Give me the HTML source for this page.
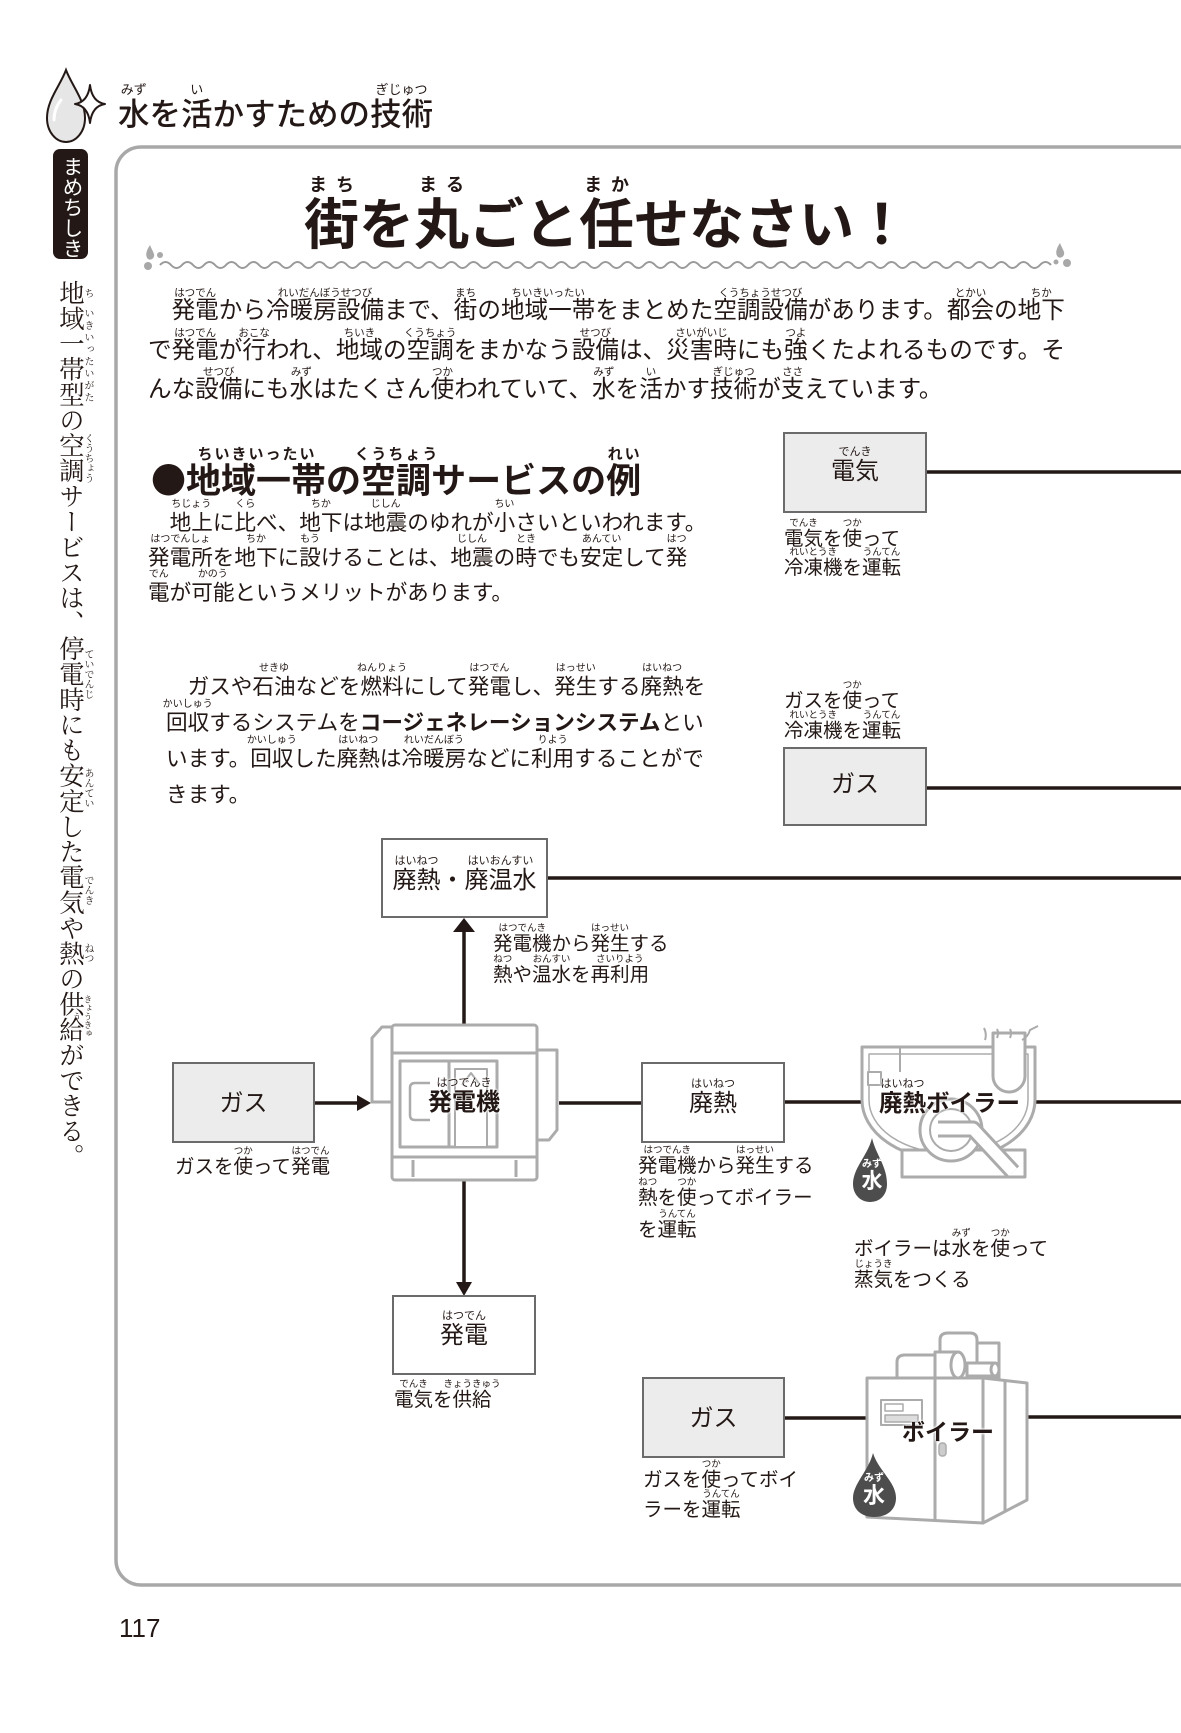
<!DOCTYPE html>
<html><head><meta charset="utf-8">
<style>
html,body{margin:0;padding:0;background:#fff}
body{width:1181px;height:1733px;position:relative;overflow:hidden;font-family:"Liberation Sans","Noto Sans CJK JP",sans-serif;color:#231815}
.ln{position:absolute;white-space:nowrap;line-height:1;color:#231815}
r{position:relative}
t{position:absolute;left:50%;bottom:100%;transform:translateX(-50%);line-height:1;white-space:nowrap;font-weight:normal}
.hd t{font-size:13px}
.tt{font-weight:700}
.tt t{font-size:18px;font-weight:700;letter-spacing:9px;padding-left:9px}
.h2{font-weight:700}
.h2 t{font-size:15px;font-weight:700;letter-spacing:2px;padding-left:2px}
.p1 t{font-size:10.5px}
.p2 t{font-size:10px}
.cap t{font-size:9.5px}
.bx{position:absolute;white-space:nowrap;line-height:1;text-align:center}
.bx t{font-size:11px}
.lab{text-shadow:0 0 2px #fff,0 0 2px #fff,0 0 3px #fff}
.vr{position:absolute;left:82px;width:11px;writing-mode:vertical-rl;text-align:center;font-size:10px;line-height:11px;font-family:"Liberation Serif","Noto Serif CJK SC",serif}
.cjk{font-family:"Noto Sans CJK JP",sans-serif}
</style></head>
<body>
<svg width="1181" height="1733" style="position:absolute;left:0;top:0">
<!-- header drop icon -->
<path d="M66 70 C60 86 47 100 47 118 C47 132 56 142 66 142 C76 142 85 132 85 118 C85 100 72 86 66 70Z" fill="#e6e6e6" stroke="#231815" stroke-width="2"/>
<path d="M54 120 C54 111 57 105 61 100" stroke="#fff" stroke-width="3" fill="none" stroke-linecap="round"/>
<path d="M90 85 Q92 102 105 104 Q92 106 90 123 Q88 106 75 104 Q88 102 90 85Z" fill="#fff" stroke="#231815" stroke-width="2" stroke-linejoin="round"/>
<!-- tab -->
<rect x="53" y="149" width="35" height="110" rx="7" fill="#231815"/>
<!-- frame -->
<rect x="116" y="147" width="1120" height="1438" rx="25" fill="none" stroke="#a8a8a8" stroke-width="3.5"/>
<!-- wave -->
<path d="M160 265 q5.5 -6 11 0 t11 0 t11 0 t11 0 t11 0 t11 0 t11 0 t11 0 t11 0 t11 0 t11 0 t11 0 t11 0 t11 0 t11 0 t11 0 t11 0 t11 0 t11 0 t11 0 t11 0 t11 0 t11 0 t11 0 t11 0 t11 0 t11 0 t11 0 t11 0 t11 0 t11 0 t11 0 t11 0 t11 0 t11 0 t11 0 t11 0 t11 0 t11 0 t11 0 t11 0 t11 0 t11 0 t11 0 t11 0 t11 0 t11 0 t11 0 t11 0 t11 0 t11 0 t11 0 t11 0 t11 0 t11 0 t11 0 t11 0 t11 0 t11 0 t11 0 t11 0 t11 0 t11 0 t11 0 t11 0 t11 0 t11 0 t11 0 t11 0 t11 0 t11 0 t11 0 t11 0 t11 0 t11 0 t11 0 t11 0 t11 0 t11 0 t11 0 t11 0" stroke="#9a9a9a" stroke-width="2" fill="none"/>
<g fill="#a8a8a8">
<path d="M150 245 C146 251 145 256 148 259 C151 261 155 258 154 254 C153 251 151 248 150 245Z"/>
<circle cx="160" cy="255" r="3"/>
<circle cx="148" cy="266" r="4"/>
<path d="M1060 243 C1056 249 1055 254 1058 257 C1061 259 1065 256 1064 252 C1063 249 1061 246 1060 243Z"/>
<circle cx="1067" cy="263" r="4"/>
<circle cx="1056" cy="262" r="2.5"/>
</g>
<!-- connectors -->
<g stroke="#231815" stroke-width="3.5" fill="none">
<line x1="926" y1="472" x2="1181" y2="472"/>
<line x1="926" y1="788" x2="1181" y2="788"/>
<line x1="547" y1="878" x2="1181" y2="878"/>
<line x1="464" y1="1025" x2="464" y2="930"/>
<line x1="314" y1="1103" x2="358" y2="1103"/>
<line x1="559" y1="1103" x2="642" y2="1103"/>
<line x1="784" y1="1102" x2="862" y2="1102"/>
<line x1="1035" y1="1102" x2="1181" y2="1102"/>
<line x1="464" y1="1180" x2="464" y2="1284"/>
<line x1="784" y1="1418" x2="867" y2="1418"/>
<line x1="1027" y1="1417" x2="1181" y2="1417"/>
</g>
<g fill="#231815">
<polygon points="464,918 453,932 475,932"/>
<polygon points="371,1103 357,1095 357,1111"/>
<polygon points="464,1296 456,1282 472,1282"/>
</g>
<!-- boxes -->
<g stroke="#6b6b6b" stroke-width="2">
<rect x="784" y="433" width="142" height="79" fill="#ececec"/>
<rect x="784" y="748" width="142" height="77" fill="#ececec"/>
<rect x="382" y="839" width="165" height="78" fill="#fff"/>
<rect x="173" y="1063" width="141" height="79" fill="#ececec"/>
<rect x="642" y="1063" width="142" height="79" fill="#fff"/>
<rect x="393" y="1296" width="142" height="78" fill="#fff"/>
<rect x="643" y="1378" width="141" height="79" fill="#ececec"/>
</g>
<!-- generator -->
<g stroke="#ababab" stroke-width="3" fill="#fff" stroke-linejoin="round">
<path d="M392 1027 H382 L372 1038 V1102 H392 Z"/>
<path d="M537 1050 H557 V1130 L549 1140 H537 Z"/>
<rect x="392" y="1025" width="145" height="155" rx="3"/>
<line x1="392" y1="1053" x2="537" y2="1053"/>
<line x1="392" y1="1157" x2="537" y2="1157"/>
<rect x="400" y="1061" width="97" height="86"/>
<line x1="449" y1="1061" x2="449" y2="1147"/>
<rect x="455" y="1069" width="32" height="78" stroke-width="2"/>
<path d="M462 1085 L471 1073 L480 1085" stroke-width="2" fill="none"/>
<path d="M430 1083 H415 Q410 1083 410 1088 V1115 Q410 1120 415 1120 H430" stroke-width="2.5" fill="none"/>
<line x1="413" y1="1160" x2="413" y2="1177"/>
<line x1="516" y1="1160" x2="516" y2="1177"/>
</g>
<!-- waste heat boiler -->
<g stroke="#ababab" stroke-width="3" fill="#fff" stroke-linejoin="round">
<path d="M862 1047 H1035 V1100 A87 60 0 0 1 948 1160 A87 60 0 0 1 862 1100 Z"/>
<path d="M869 1054 H1028 V1100 A80 53 0 0 1 948 1153 A80 53 0 0 1 869 1100 Z" stroke-width="1.5" fill="none"/>
<rect x="902" y="1150" width="123" height="27"/>
<circle cx="951" cy="1130" r="31"/>
<circle cx="951" cy="1130" r="21" stroke-width="2"/>
<path d="M938 1129 H973 L1013 1172" stroke="#ababab" stroke-width="17" fill="none"/>
<path d="M938 1129 H973 L1013 1172" stroke="#fff" stroke-width="11" fill="none"/>
<path d="M993 1033 V1076 A16 16 0 0 0 1025 1076 V1033 Z"/>
<rect x="868" y="1072" width="13" height="13" stroke-width="2"/>
<line x1="900" y1="1047" x2="900" y2="1072" stroke-width="2"/>
<path d="M985 1040 q2 -6 -1 -12 M997 1038 q2 -5 0 -9 M1010 1038 q2 -5 0 -9 M1022 1040 q6 -3 8 -10 q4 -2 8 -4" fill="none" stroke-width="2"/>
</g>
<!-- boiler -->
<g stroke="#ababab" stroke-width="3" fill="#fff" stroke-linejoin="round">
<path d="M897 1378 V1362 Q897 1355 905 1355 H940 V1378 Z"/>
<path d="M940 1350 V1340 Q940 1333 948 1333 H970 Q977 1333 977 1340 V1378 H940Z"/>
<rect x="977" y="1343" width="22" height="35"/>
<path d="M935 1352 H958 V1378 H935 Z"/>
<ellipse cx="958" cy="1365" rx="7" ry="13"/>
<path d="M967 1363 H995 V1376 H967 Z"/>
<ellipse cx="995" cy="1369.5" rx="4" ry="6.5"/>
<path d="M867 1378 L983 1378 L983 1523 L867 1517 Z"/>
<path d="M983 1378 L1027 1383 L1027 1500 L983 1523 Z"/>
<line x1="1005" y1="1381" x2="1005" y2="1512"/>
<line x1="935" y1="1378" x2="935" y2="1520"/>
<rect x="881" y="1400" width="41" height="25" stroke-width="2"/>
<rect x="885" y="1404" width="18" height="7" stroke-width="1.5"/>
<rect x="885" y="1415" width="33" height="7" stroke-width="1.5" fill="#ddd"/>
<rect x="939" y="1443" width="7" height="13" rx="3" fill="#ccc" stroke-width="1.5"/>
</g>
<!-- water drops -->
<path d="M872 1138 C868 1155 853 1168 853 1184 C853 1195 861 1202 870 1202 C880 1202 887 1195 887 1184 C887 1166 876 1155 872 1138Z" fill="#4d4d4d"/>
<path d="M873 1453 C869 1470 853 1484 853 1498 C853 1510 862 1517 874 1517 C887 1517 896 1510 896 1498 C896 1482 878 1470 873 1453Z" fill="#4d4d4d"/>
</svg>

<!-- header title -->
<div class="ln hd" style="left:118px;top:99px;font-size:31.5px;font-weight:500"><r>水<t>みず</t></r>を<r>活<t>い</t></r>かすための<r>技術<t>ぎじゅつ</t></r></div>

<!-- tab -->
<div style="position:absolute;left:53px;top:156px;width:35px;height:104px;writing-mode:vertical-rl;font-size:20.5px;line-height:35px;color:#fff;font-family:'Liberation Sans','Noto Sans CJK JP',sans-serif">まめちしき</div>

<!-- vertical column -->
<div style="position:absolute;left:57px;top:280px;width:26px;height:900px;writing-mode:vertical-rl;font-size:25.4px;line-height:26px;font-family:'Liberation Serif','Noto Serif CJK SC',serif;color:#231815;white-space:nowrap">地域一帯型の空調サービスは、停電時にも安定した電気や熱の供給ができる。</div>
<div class="vr" style="top:280px;height:25.4px">ち</div>
<div class="vr" style="top:305.4px;height:101.6px;letter-spacing:2px">いきいったいがた</div>
<div class="vr" style="top:432.4px;height:50.8px">くうちょう</div>
<div class="vr" style="top:635.6px;height:76.2px">ていでんじ</div>
<div class="vr" style="top:762.6px;height:50.8px">あんてい</div>
<div class="vr" style="top:864.2px;height:50.8px">でんき</div>
<div class="vr" style="top:940.4px;height:25.4px">ねつ</div>
<div class="vr" style="top:991.2px;height:50.8px;font-size:8.5px">きょうきゅう</div>

<!-- main title -->
<div class="ln tt" style="left:304px;top:198px;font-size:55px"><r>街<t>まち</t></r>を<r>丸<t>まる</t></r>ごと<r>任<t>まか</t></r>せなさい！</div>

<!-- paragraph 1 -->
<div class="ln p1" style="left:148px;top:300px;font-size:23.6px">　<r>発電<t>はつでん</t></r>から<r>冷暖房設備<t>れいだんぼうせつび</t></r>まで、<r>街<t>まち</t></r>の<r>地域一帯<t>ちいきいったい</t></r>をまとめた<r>空調設備<t>くうちょうせつび</t></r>があります。<r>都会<t>とかい</t></r>の<r>地下<t>ちか</t></r></div>
<div class="ln p1" style="left:148px;top:340px;font-size:23.6px">で<r>発電<t>はつでん</t></r>が<r>行<t>おこな</t></r>われ、<r>地域<t>ちいき</t></r>の<r>空調<t>くうちょう</t></r>をまかなう<r>設備<t>せつび</t></r>は、<r>災害時<t>さいがいじ</t></r>にも<r>強<t>つよ</t></r>くたよれるものです。そ</div>
<div class="ln p1" style="left:148px;top:379px;font-size:23.6px">んな<r>設備<t>せつび</t></r>にも<r>水<t>みず</t></r>はたくさん<r>使<t>つか</t></r>われていて、<r>水<t>みず</t></r>を<r>活<t>い</t></r>かす<r>技術<t>ぎじゅつ</t></r>が<r>支<t>ささ</t></r>えています。</div>

<!-- heading -->
<div class="ln h2" style="left:151px;top:461px;font-size:35px"><span class="cjk">●</span><r>地域一帯<t>ちいきいったい</t></r>の<r>空調<t>くうちょう</t></r>サービスの<r>例<t>れい</t></r></div>

<!-- paragraph 2 -->
<div class="ln p2" style="left:148px;top:512px;font-size:21.6px">　<r>地上<t>ちじょう</t></r>に<r>比<t>くら</t></r>べ、<r>地下<t>ちか</t></r>は<r>地震<t>じしん</t></r>のゆれが<r>小<t>ちい</t></r>さいといわれます。</div>
<div class="ln p2" style="left:148px;top:547px;font-size:21.6px"><r>発電所<t>はつでんしょ</t></r>を<r>地下<t>ちか</t></r>に<r>設<t>もう</t></r>けることは、<r>地震<t>じしん</t></r>の<r>時<t>とき</t></r>でも<r>安定<t>あんてい</t></r>して<r>発<t>はつ</t></r></div>
<div class="ln p2" style="left:148px;top:582px;font-size:21.6px"><r>電<t>でん</t></r>が<r>可能<t>かのう</t></r>というメリットがあります。</div>

<!-- paragraph 3 -->
<div class="ln p2" style="left:166px;top:676px;font-size:21.6px">　ガスや<r>石油<t>せきゆ</t></r>などを<r>燃料<t>ねんりょう</t></r>にして<r>発電<t>はつでん</t></r>し、<r>発生<t>はっせい</t></r>する<r>廃熱<t>はいねつ</t></r>を</div>
<div class="ln p2" style="left:166px;top:712px;font-size:21.6px"><r>回収<t>かいしゅう</t></r>するシステムを<b>コージェネレーションシステム</b>とい</div>
<div class="ln p2" style="left:166px;top:748px;font-size:21.6px">います。<r>回収<t>かいしゅう</t></r>した<r>廃熱<t>はいねつ</t></r>は<r>冷暖房<t>れいだんぼう</t></r>などに<r>利用<t>りよう</t></r>することがで</div>
<div class="ln p2" style="left:166px;top:784px;font-size:21.6px">きます。</div>

<!-- captions -->
<div class="ln cap" style="left:784px;top:530px;font-size:19.5px"><r>電気<t>でんき</t></r>を<r>使<t>つか</t></r>って</div>
<div class="ln cap" style="left:784px;top:559px;font-size:19.5px"><r>冷凍機<t>れいとうき</t></r>を<r>運転<t>うんてん</t></r></div>
<div class="ln cap" style="left:784px;top:692px;font-size:19.5px">ガスを<r>使<t>つか</t></r>って</div>
<div class="ln cap" style="left:784px;top:722px;font-size:19.5px"><r>冷凍機<t>れいとうき</t></r>を<r>運転<t>うんてん</t></r></div>
<div class="ln cap" style="left:493px;top:935px;font-size:19.5px"><r>発電機<t>はつでんき</t></r>から<r>発生<t>はっせい</t></r>する</div>
<div class="ln cap" style="left:493px;top:966px;font-size:19.5px"><r>熱<t>ねつ</t></r>や<r>温水<t>おんすい</t></r>を<r>再利用<t>さいりよう</t></r></div>
<div class="ln cap" style="left:175px;top:1158px;font-size:19.5px">ガスを<r>使<t>つか</t></r>って<r>発電<t>はつでん</t></r></div>
<div class="ln cap" style="left:638px;top:1157px;font-size:19.5px"><r>発電機<t>はつでんき</t></r>から<r>発生<t>はっせい</t></r>する</div>
<div class="ln cap" style="left:638px;top:1189px;font-size:19.5px"><r>熱<t>ねつ</t></r>を<r>使<t>つか</t></r>ってボイラー</div>
<div class="ln cap" style="left:638px;top:1221px;font-size:19.5px">を<r>運転<t>うんてん</t></r></div>
<div class="ln cap" style="left:854px;top:1240px;font-size:19.5px">ボイラーは<r>水<t>みず</t></r>を<r>使<t>つか</t></r>って</div>
<div class="ln cap" style="left:854px;top:1271px;font-size:19.5px"><r>蒸気<t>じょうき</t></r>をつくる</div>
<div class="ln cap" style="left:394px;top:1391px;font-size:19.5px"><r>電気<t>でんき</t></r>を<r>供給<t>きょうきゅう</t></r></div>
<div class="ln cap" style="left:643px;top:1471px;font-size:19.5px">ガスを<r>使<t>つか</t></r>ってボイ</div>
<div class="ln cap" style="left:643px;top:1501px;font-size:19.5px">ラーを<r>運転<t>うんてん</t></r></div>

<!-- box labels -->
<div class="bx" style="left:784px;width:142px;top:460px;font-size:24px"><r>電気<t>でんき</t></r></div>
<div class="bx" style="left:784px;width:142px;top:773px;font-size:24px">ガス</div>
<div class="bx" style="left:382px;width:165px;top:869px;font-size:24px"><r>廃熱<t>はいねつ</t></r>・<r>廃温水<t>はいおんすい</t></r></div>
<div class="bx" style="left:173px;width:141px;top:1092px;font-size:24px">ガス</div>
<div class="bx lab" style="left:403px;width:122px;top:1091px;font-size:24px;font-weight:700"><r>発電機<t>はつでんき</t></r></div>
<div class="bx" style="left:642px;width:142px;top:1092px;font-size:24px"><r>廃熱<t>はいねつ</t></r></div>
<div class="bx lab" style="left:879px;top:1092px;font-size:23.5px;font-weight:700;text-align:left"><r>廃熱<t>はいねつ</t></r>ボイラー</div>
<div class="bx" style="left:393px;width:142px;top:1324px;font-size:24px"><r>発電<t>はつでん</t></r></div>
<div class="bx" style="left:643px;width:141px;top:1407px;font-size:24px">ガス</div>
<div class="bx lab" style="left:902px;top:1421px;font-size:23px;font-weight:700;text-align:left">ボイラー</div>

<!-- drop labels -->
<div class="bx" style="left:850px;width:44px;top:1160px;font-size:10px;font-weight:700;color:#fff">みず</div>
<div class="bx" style="left:850px;width:44px;top:1171px;font-size:21px;font-weight:700;color:#fff">水</div>
<div class="bx" style="left:852px;width:44px;top:1474px;font-size:10px;font-weight:700;color:#fff">みず</div>
<div class="bx" style="left:852px;width:44px;top:1485px;font-size:22px;font-weight:700;color:#fff">水</div>

<!-- page number -->
<div class="ln" style="left:119px;top:1615px;font-size:26px;font-family:'Liberation Sans',sans-serif">117</div>
</body></html>
